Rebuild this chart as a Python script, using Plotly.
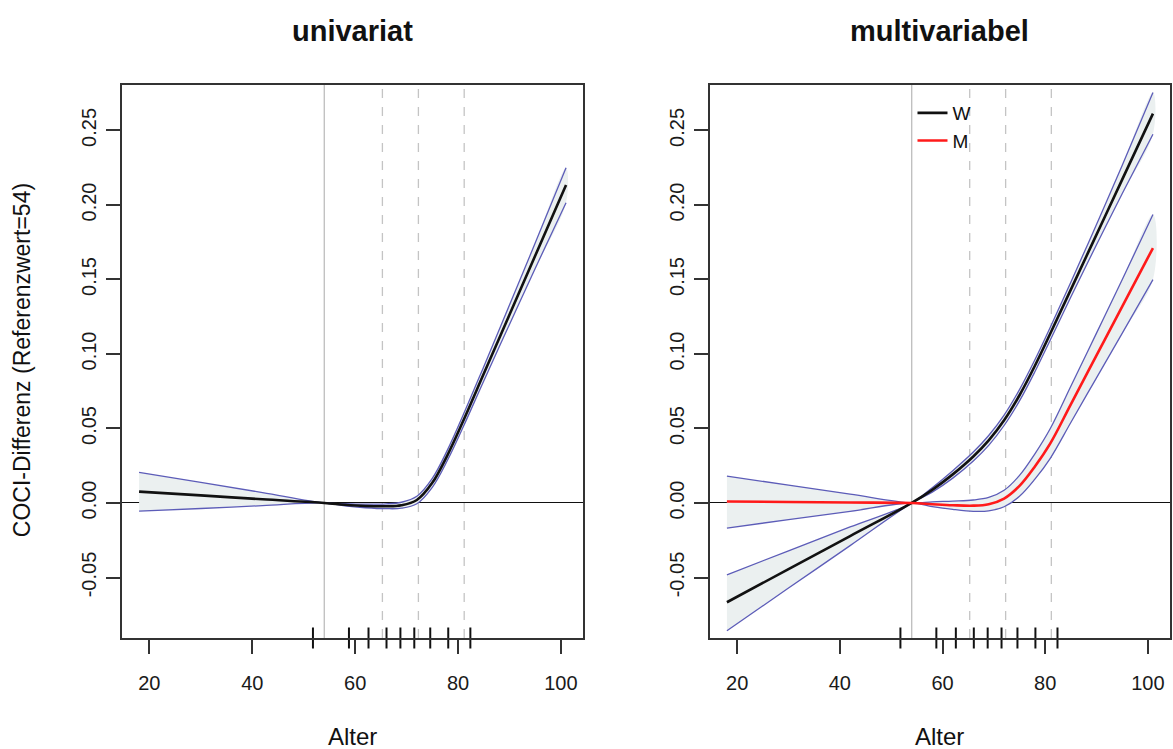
import plotly.graph_objects as go

# ---------------- data ----------------
age = [18, 30, 42, 54, 58, 62, 66, 69, 72, 75, 78, 81, 85, 90, 95, 101]

# univariat
uni_fit = [0.0076, 0.0051, 0.0025, 0.0, -0.0012, -0.0020, -0.0022, -0.0015, 0.002, 0.0135, 0.0325, 0.055, 0.0867, 0.1263, 0.1659, 0.2134]
uni_upper = [0.0205, 0.0138, 0.0070, 0.0, -0.0004, -0.0008, -0.0006, 0.0005, 0.0045, 0.0165, 0.036, 0.059, 0.0915, 0.1328, 0.1744, 0.225]
uni_lower = [-0.0055, -0.0037, -0.0018, 0.0, -0.0020, -0.0032, -0.0038, -0.0035, -0.0005, 0.0105, 0.029, 0.051, 0.0819, 0.1198, 0.1574, 0.2015]

# multivariabel, W
w_fit = [-0.0666, -0.0444, -0.0222, 0.0, 0.0088, 0.0192, 0.0312, 0.042, 0.0555, 0.0723, 0.0921, 0.1137, 0.1432, 0.1801, 0.2170, 0.2613]
w_upper = [-0.0482, -0.0321, -0.0161, 0.0, 0.0103, 0.0217, 0.0342, 0.0453, 0.059, 0.0761, 0.0961, 0.118, 0.1482, 0.1869, 0.2265, 0.2754]
w_lower = [-0.0857, -0.0571, -0.0286, 0.0, 0.0073, 0.0167, 0.0282, 0.0387, 0.052, 0.0685, 0.0881, 0.1094, 0.1382, 0.1733, 0.2075, 0.2474]

# multivariabel, M
m_fit = [0.001, 0.0007, 0.0003, 0.0, -0.0008, -0.0015, -0.0018, -0.0008, 0.003, 0.0115, 0.0245, 0.040, 0.0662, 0.0990, 0.1318, 0.1711]
m_upper = [0.018, 0.012, 0.006, 0.0, 0.0008, 0.0013, 0.002, 0.0037, 0.0085, 0.0185, 0.033, 0.050, 0.0784, 0.114, 0.1498, 0.1936]
m_lower = [-0.0168, -0.0112, -0.0056, 0.0, -0.0024, -0.0043, -0.0056, -0.0053, -0.0025, 0.0045, 0.016, 0.030, 0.054, 0.084, 0.1138, 0.1499]

reference_age = 54
knots = [65.3, 72.3, 81.2]
rug = [51.8, 58.8, 62.6, 66.1, 68.8, 71.5, 74.6, 78.1, 82.4]

x_ticks = [20, 40, 60, 80, 100]
y_ticks = [-0.05, 0.0, 0.05, 0.10, 0.15, 0.20, 0.25]
y_ticktext = ["-0.05", "0.00", "0.05", "0.10", "0.15", "0.20", "0.25"]

panel_titles = ["univariat", "multivariabel"]
x_title = "Alter"
y_title = "COCI-Differenz (Referenzwert=54)"

# ---------------- style ----------------
FONT = "Liberation Sans, Arial, sans-serif"
CI_COL = "#5c5cb8"
FILL_COL = "#ebf0f0"
X_RANGE = [14.68, 104.32]
Y_RANGE = [-0.0906, 0.2805]

fig = go.Figure()


def add_band(xa, ya, fit, up, lo, color, name, legend):
    fig.add_trace(go.Scatter(x=age + age[::-1], y=up + lo[::-1], fill="toself",
                             fillcolor=FILL_COL, line=dict(width=0, shape="spline", smoothing=1.0),
                             mode="lines", hoverinfo="skip", showlegend=False, xaxis=xa, yaxis=ya))
    for yy in (up, lo):
        fig.add_trace(go.Scatter(x=age, y=yy, mode="lines",
                                 line=dict(color=CI_COL, width=1.3, shape="spline", smoothing=1.0),
                                 showlegend=False, xaxis=xa, yaxis=ya))
    fig.add_trace(go.Scatter(x=age, y=fit, mode="lines", name=name,
                             line=dict(color=color, width=2.6, shape="spline", smoothing=1.0),
                             showlegend=legend, xaxis=xa, yaxis=ya))


add_band("x", "y", uni_fit, uni_upper, uni_lower, "#111111", "gesamt", False)
add_band("x2", "y2", w_fit, w_upper, w_lower, "#111111", "W", True)
add_band("x2", "y2", m_fit, m_upper, m_lower, "#ff1a1a", "M", True)

# rug marks
for xa, ya in (("x", "y"), ("x2", "y2")):
    fig.add_trace(go.Scatter(x=rug, y=[Y_RANGE[0]] * len(rug), mode="markers",
                             marker=dict(symbol="line-ns", size=15,
                                         line=dict(color="#111111", width=2)),
                             cliponaxis=False, showlegend=False, hoverinfo="skip",
                             xaxis=xa, yaxis=ya))

# reference lines
for xa, ya in (("x", "y"), ("x2", "y2")):
    fig.add_shape(type="line", xref=xa, yref=ya + " domain", x0=reference_age, x1=reference_age,
                  y0=0, y1=1, line=dict(color="#bdbdbd", width=1.3), layer="below")
    for k in knots:
        fig.add_shape(type="line", xref=xa, yref=ya + " domain", x0=k, x1=k, y0=0, y1=1,
                      line=dict(color="#c4c4c4", width=1.3, dash="dash"), layer="below")

axis_common = dict(showline=True, linecolor="#333333", linewidth=1.5, mirror=True,
                   ticks="outside", ticklen=14, tickwidth=1.5, tickcolor="#333333",
                   showgrid=False, tickfont=dict(family=FONT, size=20, color="#1a1a1a"))

d1 = 462 / 1050
d2 = (711 - 122) / 1050
fig.update_layout(
    width=1173, height=749,
    margin=dict(l=122, r=1, t=85, b=111),
    paper_bgcolor="white", plot_bgcolor="white",
    font=dict(family=FONT, color="#111111"),
    xaxis=dict(domain=[0, d1], range=X_RANGE, tickvals=x_ticks, anchor="y",
               ticklabelstandoff=12, zeroline=False, **axis_common),
    xaxis2=dict(domain=[d2, 1], range=X_RANGE, tickvals=x_ticks, anchor="y2",
                ticklabelstandoff=12, zeroline=False, **axis_common),
    yaxis=dict(range=Y_RANGE, tickvals=y_ticks, ticktext=y_ticktext, tickangle=-90,
               anchor="x", zeroline=True, zerolinecolor="#111111", zerolinewidth=1.4,
               ticklabelstandoff=2, **axis_common),
    yaxis2=dict(range=Y_RANGE, tickvals=y_ticks, ticktext=y_ticktext, tickangle=-90,
                anchor="x2", zeroline=True, zerolinecolor="#111111", zerolinewidth=1.4,
                ticklabelstandoff=2, **axis_common),
    legend=dict(x=(914 - 122) / 1050, y=1 - (94 - 85) / 553, xanchor="left", yanchor="top",
                bgcolor="rgba(0,0,0,0)", borderwidth=0,
                font=dict(family=FONT, size=19, color="#111111"),
                tracegroupgap=0, itemwidth=30),
    showlegend=True,
)

centers = [d1 / 2, (d2 + 1) / 2]
for c, t in zip(centers, panel_titles):
    fig.add_annotation(text="<b>" + t + "</b>", x=c, y=1 + (85 - 31) / 553, xref="paper", yref="paper",
                       showarrow=False, xanchor="center", yanchor="middle",
                       font=dict(family=FONT, size=29, color="#111111"))
    fig.add_annotation(text=x_title, x=c, y=-(736 - 638) / 553, xref="paper", yref="paper",
                       showarrow=False, xanchor="center", yanchor="middle",
                       font=dict(family=FONT, size=24, color="#111111"))

fig.add_annotation(text=y_title, x=-(122 - 22) / 1050, y=1 - (360 - 85) / 553, xref="paper", yref="paper",
                   showarrow=False, textangle=-90, xanchor="center", yanchor="middle",
                   font=dict(family=FONT, size=23, color="#111111"))

fig.write_html("out.html")
